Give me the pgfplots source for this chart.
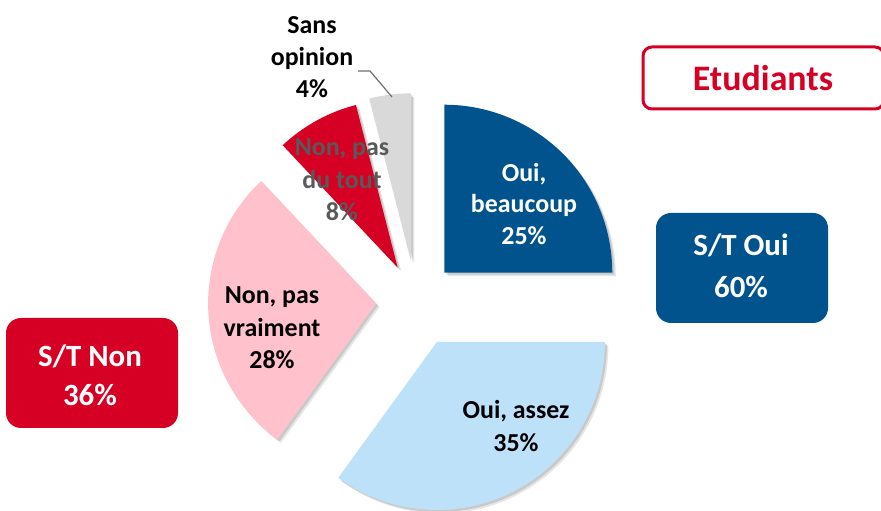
\documentclass[border=0pt]{standalone}
\usepackage{pgfplots}
\pgfplotsset{compat=1.18}
\usepackage{pgfplotstable}
\usepackage{fontspec}
\setmainfont{Carlito}
\definecolor{pie0}{RGB}{0,83,141}
\definecolor{pie1}{RGB}{190,225,250}
\definecolor{pie2}{RGB}{255,193,204}
\definecolor{pie3}{RGB}{214,0,37}
\definecolor{pie4}{RGB}{217,217,217}
\definecolor{txtgray}{RGB}{89,89,89}
\definecolor{lead}{RGB}{110,110,110}

\pgfplotstableread{
name value explode
beaucoup 25 40
assez 35 46
vraiment 28 40
dutout 8 38
sans 4 40
}\pietable

\begin{document}
\begin{tikzpicture}
\begin{axis}[hide axis, x=1bp, y=1bp, xmin=0, xmax=881, ymin=0, ymax=511,
  scale only axis, clip=false]
\coordinate (BL) at (axis cs:0,0);
\coordinate (TR) at (axis cs:881,511);
\def\cum{0}
\pgfplotsforeachungrouped \i in {0,...,4}{%
  \pgfplotstablegetelem{\i}{value}\of\pietable \let\v\pgfplotsretval
  \pgfplotstablegetelem{\i}{explode}\of\pietable \let\ex\pgfplotsretval
  \pgfmathsetmacro\aone{90-3.6*\cum}%
  \pgfmathsetmacro\atwo{\aone-3.6*\v}%
  \pgfmathsetmacro\amid{(\aone+\atwo)/2}%
  \pgfmathsetmacro\cx{416+\ex*cos(\amid)}%
  \pgfmathsetmacro\cy{210+\ex*sin(\amid)}%
  \edef\temp{%
    \noexpand\fill[black, opacity=0.10] ([shift={(3.5bp,-3.5bp)}]axis cs:\cx,\cy) -- ++(\aone:168bp) arc[start angle=\aone, end angle=\atwo, radius=168bp] -- cycle;
    \noexpand\fill[black, opacity=0.12] ([shift={(2bp,-2bp)}]axis cs:\cx,\cy) -- ++(\aone:168bp) arc[start angle=\aone, end angle=\atwo, radius=168bp] -- cycle;
    \noexpand\fill[pie\i] (axis cs:\cx,\cy) -- ++(\aone:168bp) arc[start angle=\aone, end angle=\atwo, radius=168bp] -- cycle;
  }%
  \temp
  \pgfmathsetmacro\cum{\cum+\v}%
}
% slice labels
\node[align=center, text=white, font=\fontsize{26}{32}\selectfont\bfseries] at (axis cs:524,307) {Oui,\\beaucoup\\25\%};
\node[align=center, text=black, font=\fontsize{26}{33}\selectfont\bfseries] at (axis cs:516,85) {Oui, assez\\35\%};
\node[align=center, text=black, font=\fontsize{26}{32.5}\selectfont\bfseries] at (axis cs:272,183) {Non, pas\\vraiment\\28\%};
\node[align=center, text=txtgray, font=\fontsize{26}{32.5}\selectfont\bfseries] at (axis cs:342,331) {Non, pas\\du tout\\8\%};
\node[align=center, text=black, font=\fontsize{26}{32}\selectfont\bfseries] at (axis cs:312,454) {Sans\\opinion\\4\%};
\draw[lead, line width=1.2bp] (axis cs:358,440) -- (axis cs:370,440) -- (axis cs:392,414);
% boxes
\draw[pie3, line width=3bp, fill=white, rounded corners=9bp] (axis cs:643,464) rectangle (axis cs:884,402);
\node[text=pie3, font=\fontsize{36}{40}\selectfont\bfseries] at (axis cs:763,433) {Etudiants};
\fill[pie0, rounded corners=15bp] (axis cs:656,298) rectangle (axis cs:828,188);
\node[align=center, text=white, font=\fontsize{31}{42}\selectfont\bfseries] at (axis cs:741,245) {S/T Oui\\60\%};
\fill[pie3, rounded corners=15bp] (axis cs:6,193) rectangle (axis cs:178,83);
\node[align=center, text=white, font=\fontsize{31}{39}\selectfont\bfseries] at (axis cs:90,136) {S/T Non\\36\%};
\end{axis}
\pgfresetboundingbox
\path[use as bounding box] (BL) rectangle (TR);
\end{tikzpicture}
\end{document}
